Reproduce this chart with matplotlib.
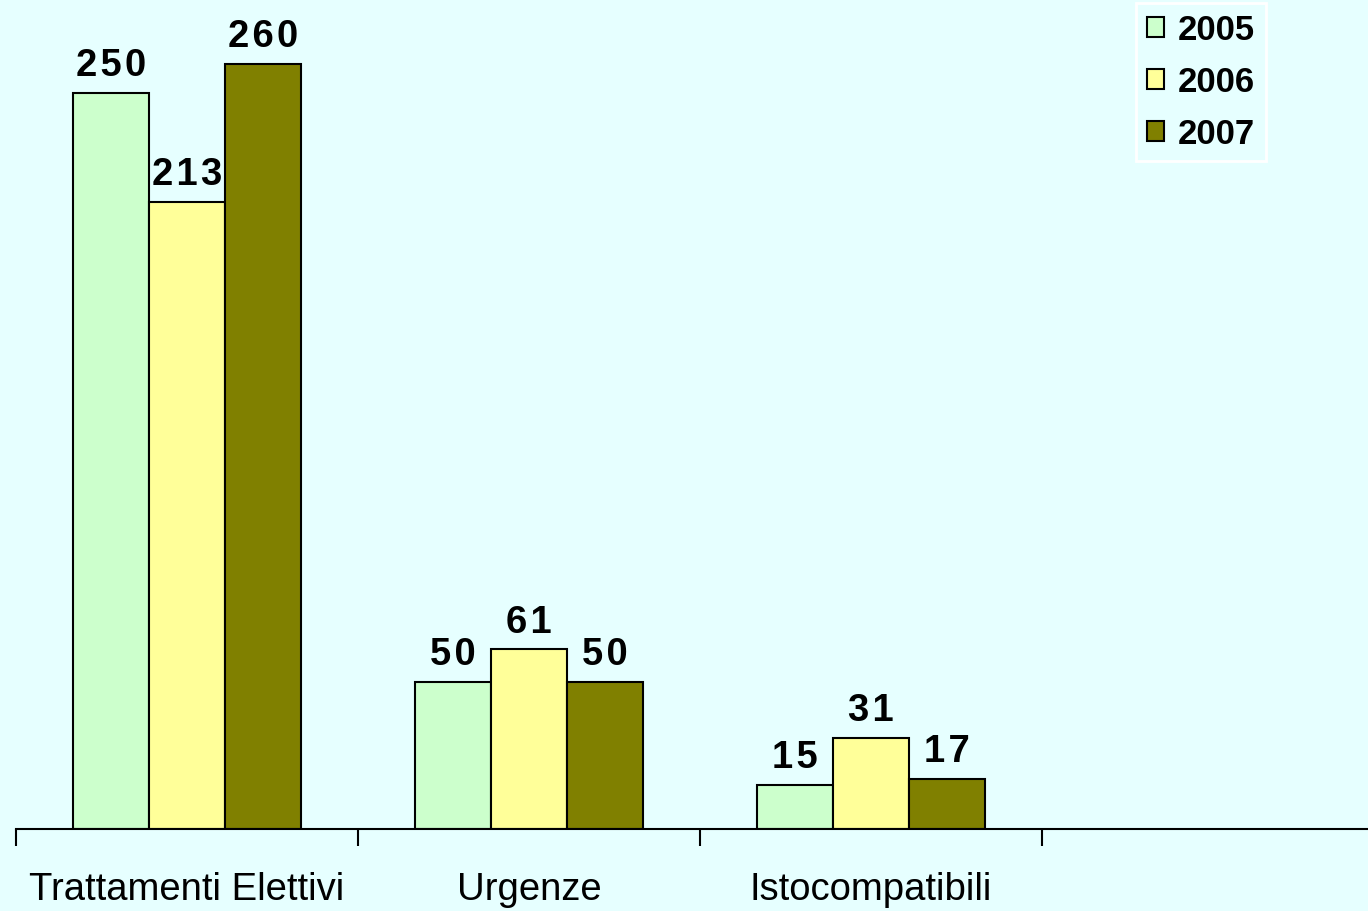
import matplotlib.pyplot as plt
import numpy as np

categories = ['Trattamenti Elettivi', 'Urgenze', 'Istocompatibili']
years = ['2005', '2006', '2007']
v2005 = [250, 50, 15]
v2006 = [213, 61, 31]
v2007 = [260, 50, 17]
colors = ['#CCFFCC', '#FFFF99', '#808000']
bg = '#E6FFFF'

plt.rcParams['font.family'] = ['Liberation Sans', 'DejaVu Sans']

def spaced(s):
    # the original labels are slightly letter-spaced
    return '\u200a'.join(s)

fig = plt.figure(figsize=(13.68, 9.12), dpi=100)
fig.patch.set_facecolor(bg)
ax = fig.add_axes([16 / 1368, 82 / 912, 1 - 16 / 1368, 1 - 82 / 912])
ax.set_facecolor(bg)

x = np.arange(len(categories))
w = 0.222
series = [v2005, v2006, v2007]
for i, vals in enumerate(series):
    bars = ax.bar(x + (i - 1) * w, vals, w, color=colors[i], edgecolor='black',
                  linewidth=1.5, label=years[i], zorder=2)
    for b, v in zip(bars, vals):
        ax.annotate(spaced(str(v)), (b.get_x() + b.get_width() / 2, v), xytext=(0, 7),
                    textcoords='offset points', ha='center', va='bottom',
                    fontsize=27.5, fontweight='bold')

ax.set_xlim(-0.5, -0.5 + (1368 - 16) / 342)
ax.set_ylim(0, 282)
ax.set_xticks([-0.5, 0.5, 1.5, 2.5])
ax.set_xticklabels([])
ax.set_xticks(x, minor=True)
ax.set_xticklabels(categories, minor=True, fontsize=27.5)
ax.tick_params(axis='x', which='major', direction='out', length=12, width=1.5)
ax.tick_params(axis='x', which='minor', length=0, pad=30)
ax.set_yticks([])
for s in ['top', 'right', 'left']:
    ax.spines[s].set_visible(False)
ax.spines['bottom'].set_linewidth(1.5)

leg = fig.legend(loc='upper right', bbox_to_anchor=(1283 / 1368, 1.015),
                 prop={'size': 25, 'weight': 'bold'}, handlelength=0.5,
                 handleheight=0.5, handletextpad=0.4, labelspacing=0.55,
                 borderpad=0.3, fancybox=False, framealpha=1)
leg.get_frame().set_facecolor(bg)
leg.get_frame().set_edgecolor('white')
leg.get_frame().set_linewidth(2)

fig.savefig('out.png', dpi=100, facecolor=bg)
